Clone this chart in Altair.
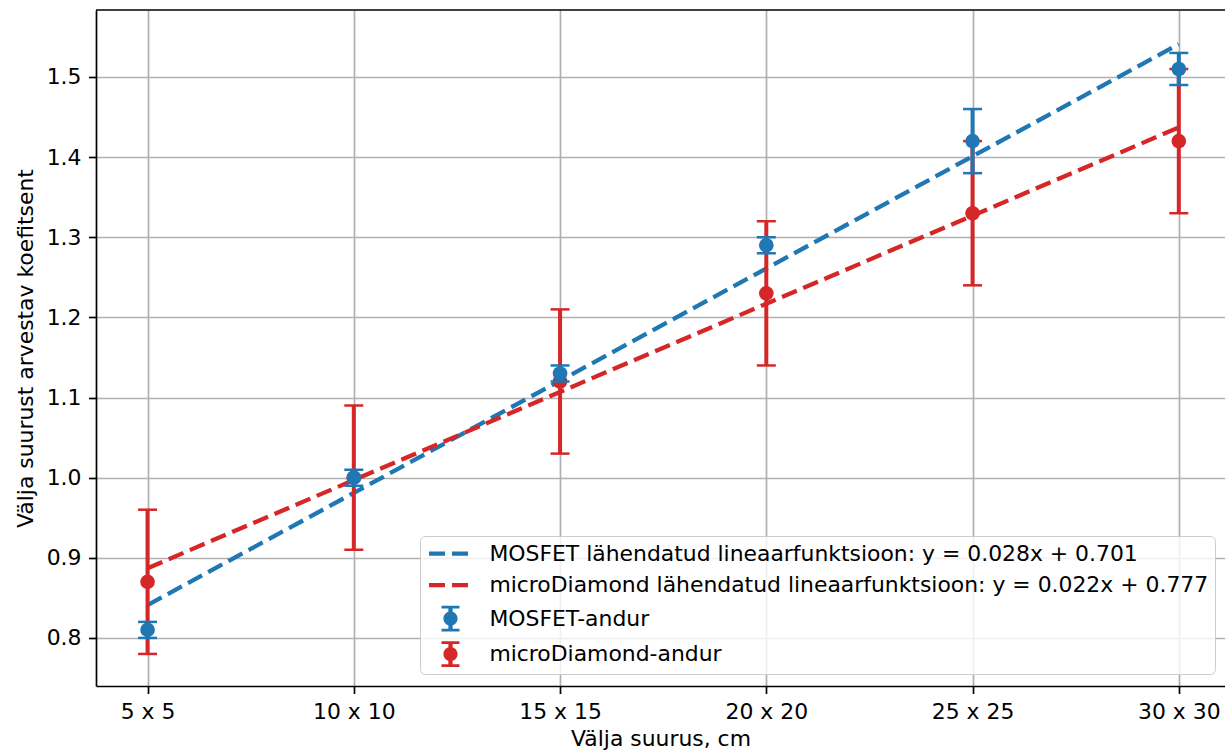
import altair as alt
import pandas as pd

# ---- data ----
sizes = [5, 10, 15, 20, 25, 30]
tick_labels = ["5 x 5", "10 x 10", "15 x 15", "20 x 20", "25 x 25", "30 x 30"]
mosfet_y = [0.81, 1.00, 1.13, 1.29, 1.42, 1.51]
mosfet_err = [0.01, 0.01, 0.01, 0.01, 0.04, 0.02]
diamond_y = [0.87, 1.00, 1.12, 1.23, 1.33, 1.42]
diamond_err = [0.09, 0.09, 0.09, 0.09, 0.09, 0.09]
mosfet_fit = (0.028, 0.701)
diamond_fit = (0.022, 0.777)
y_ticks = [0.8, 0.9, 1.0, 1.1, 1.2, 1.3, 1.4, 1.5]

BLUE = "#1f77b4"
RED = "#d62728"
FONT = "DejaVu Sans"
FS = 21.9

fit_m = "MOSFET lähendatud lineaarfunktsioon: y = %.3fx + %.3f" % mosfet_fit
fit_d = "microDiamond lähendatud lineaarfunktsioon: y = %.3fx + %.3f" % diamond_fit
pt_m = "MOSFET-andur"
pt_d = "microDiamond-andur"


def fit_frame(name, coef):
    a, b = coef
    xs = [sizes[0], sizes[-1]]
    return pd.DataFrame({"x": xs, "y": [a * v + b for v in xs], "series": name})


def point_frame(name, ys, es):
    return pd.DataFrame({
        "x": sizes, "y": ys,
        "lower": [y - e for y, e in zip(ys, es)],
        "upper": [y + e for y, e in zip(ys, es)],
        "series": name,
    })


fit_m_df = fit_frame(fit_m, mosfet_fit)
fit_d_df = fit_frame(fit_d, diamond_fit)
pt_m_df = point_frame(pt_m, mosfet_y, mosfet_err)
pt_d_df = point_frame(pt_d, diamond_y, diamond_err)

W, H = 1129, 676

xscale = alt.Scale(domain=[3.75, 31.12], nice=False, zero=False)
yscale = alt.Scale(domain=[0.740, 1.5836], nice=False, zero=False)

label_expr = "%s[indexof(%s, datum.value)]" % (
    "[" + ",".join("'%s'" % t for t in tick_labels) + "]",
    "[" + ",".join(str(s) for s in sizes) + "]",
)

axis_common = dict(
    grid=True, gridColor="#b0b0b0", gridWidth=1.7, gridOpacity=1,
    domainColor="black", domainWidth=1.7,
    tickColor="black", tickWidth=1.7, tickSize=7.5,
    labelFont=FONT, labelFontSize=FS, labelColor="black", labelPadding=7.5,
    titleFont=FONT, titleFontSize=FS, titleFontWeight="normal", titleColor="black",
    labelFlush=False, labelOverlap=False,
)
xaxis = alt.Axis(title="Välja suurus, cm", values=sizes, labelExpr=label_expr,
                 titlePadding=7, **axis_common)
yaxis = alt.Axis(title="Välja suurust arvestav koefitsent", values=y_ticks, format=".1f",
                 titlePadding=9, **axis_common)

X = alt.X("x:Q", scale=xscale, axis=xaxis)
Y = alt.Y("y:Q", scale=yscale, axis=yaxis)
YLO = alt.Y("lower:Q", scale=yscale, axis=yaxis)
YHI = alt.Y("upper:Q", scale=yscale, axis=yaxis)


def fit_layer(df, col):
    return alt.Chart(df).mark_line(color=col, strokeDash=[16, 7], strokeWidth=4.3,
                                   strokeCap="butt").encode(x=X, y=Y)


def errorbar_layers(df, col):
    rule = alt.Chart(df).mark_rule(color=col, strokeWidth=4).encode(x=X, y=YLO, y2="upper:Q")
    lo = alt.Chart(df).mark_tick(color=col, orient="horizontal", size=19, thickness=2.5,
                                 opacity=1).encode(x=X, y=YLO)
    hi = alt.Chart(df).mark_tick(color=col, orient="horizontal", size=19, thickness=2.5,
                                 opacity=1).encode(x=X, y=YHI)
    pts = alt.Chart(df).mark_point(color=col, filled=True, size=215, opacity=1,
                                   shape="circle").encode(x=X, y=Y)
    return [rule, lo, hi, pts]


# ---- legend (entries come from the explicit scale domain; this layer draws no rows) ----
# symbol paths in units of 11 px (symbolSize 484 -> scale sqrt(484)/2 = 11)
DASH = ("M-1.955,-0.195H-0.5V0.195H-1.955Z"
        "M0.136,-0.195H1.591V0.195H0.136Z")
EB = ("M-0.195,-1.045H0.195V1.045H-0.195Z"
      "M-0.818,-1.164H0.818V-0.927H-0.818Z"
      "M-0.818,0.927H0.818V1.164H-0.818Z"
      "M0.645,0A0.645,0.645,0,1,1,-0.645,0A0.645,0.645,0,1,1,0.645,0Z")

legend = alt.Legend(
    title=None, orient="none", legendX=324, legendY=526,
    labelFont=FONT, labelFontSize=FS, labelColor="black", labelLimit=2000,
    symbolSize=484, symbolStrokeWidth=0, symbolOpacity=1,
    symbolOffset=12.9, labelOffset=27.9, padding=6.6, rowPadding=9.5,
    strokeColor="#cccccc", fillColor="rgba(255,255,255,0.8)", cornerRadius=5,
)
series_domain = [fit_m, fit_d, pt_m, pt_d]
cscale = alt.Scale(domain=series_domain, range=[BLUE, RED, BLUE, RED])
sscale = alt.Scale(domain=series_domain, range=[DASH, DASH, EB, EB])
legend_df = pd.concat([pt_m_df, pt_d_df])
legend_layer = alt.Chart(legend_df).transform_filter("false").mark_point(
    filled=True, opacity=1).encode(
    x=X, y=Y,
    color=alt.Color("series:N", scale=cscale, legend=legend, sort=None),
    shape=alt.Shape("series:N", scale=sscale, legend=legend, sort=None),
)

top_spine = alt.Chart(pd.DataFrame({"k": [0]})).mark_rule(color="black", strokeWidth=1.7).encode(
    x=alt.value(0), x2=alt.value(W), y=alt.value(0))

layers = ([legend_layer, fit_layer(fit_m_df, BLUE), fit_layer(fit_d_df, RED)]
          + errorbar_layers(pt_d_df, RED) + errorbar_layers(pt_m_df, BLUE) + [top_spine])

chart = alt.layer(*layers).properties(
    width=W, height=H,
    autosize=alt.AutoSizeParams(type="none"),
    padding={"left": 96, "top": 10, "right": 0, "bottom": 69},
).configure(font=FONT).configure_view(stroke=None)

chart.save("out.html", embed_options={"renderer": "svg", "actions": False})
